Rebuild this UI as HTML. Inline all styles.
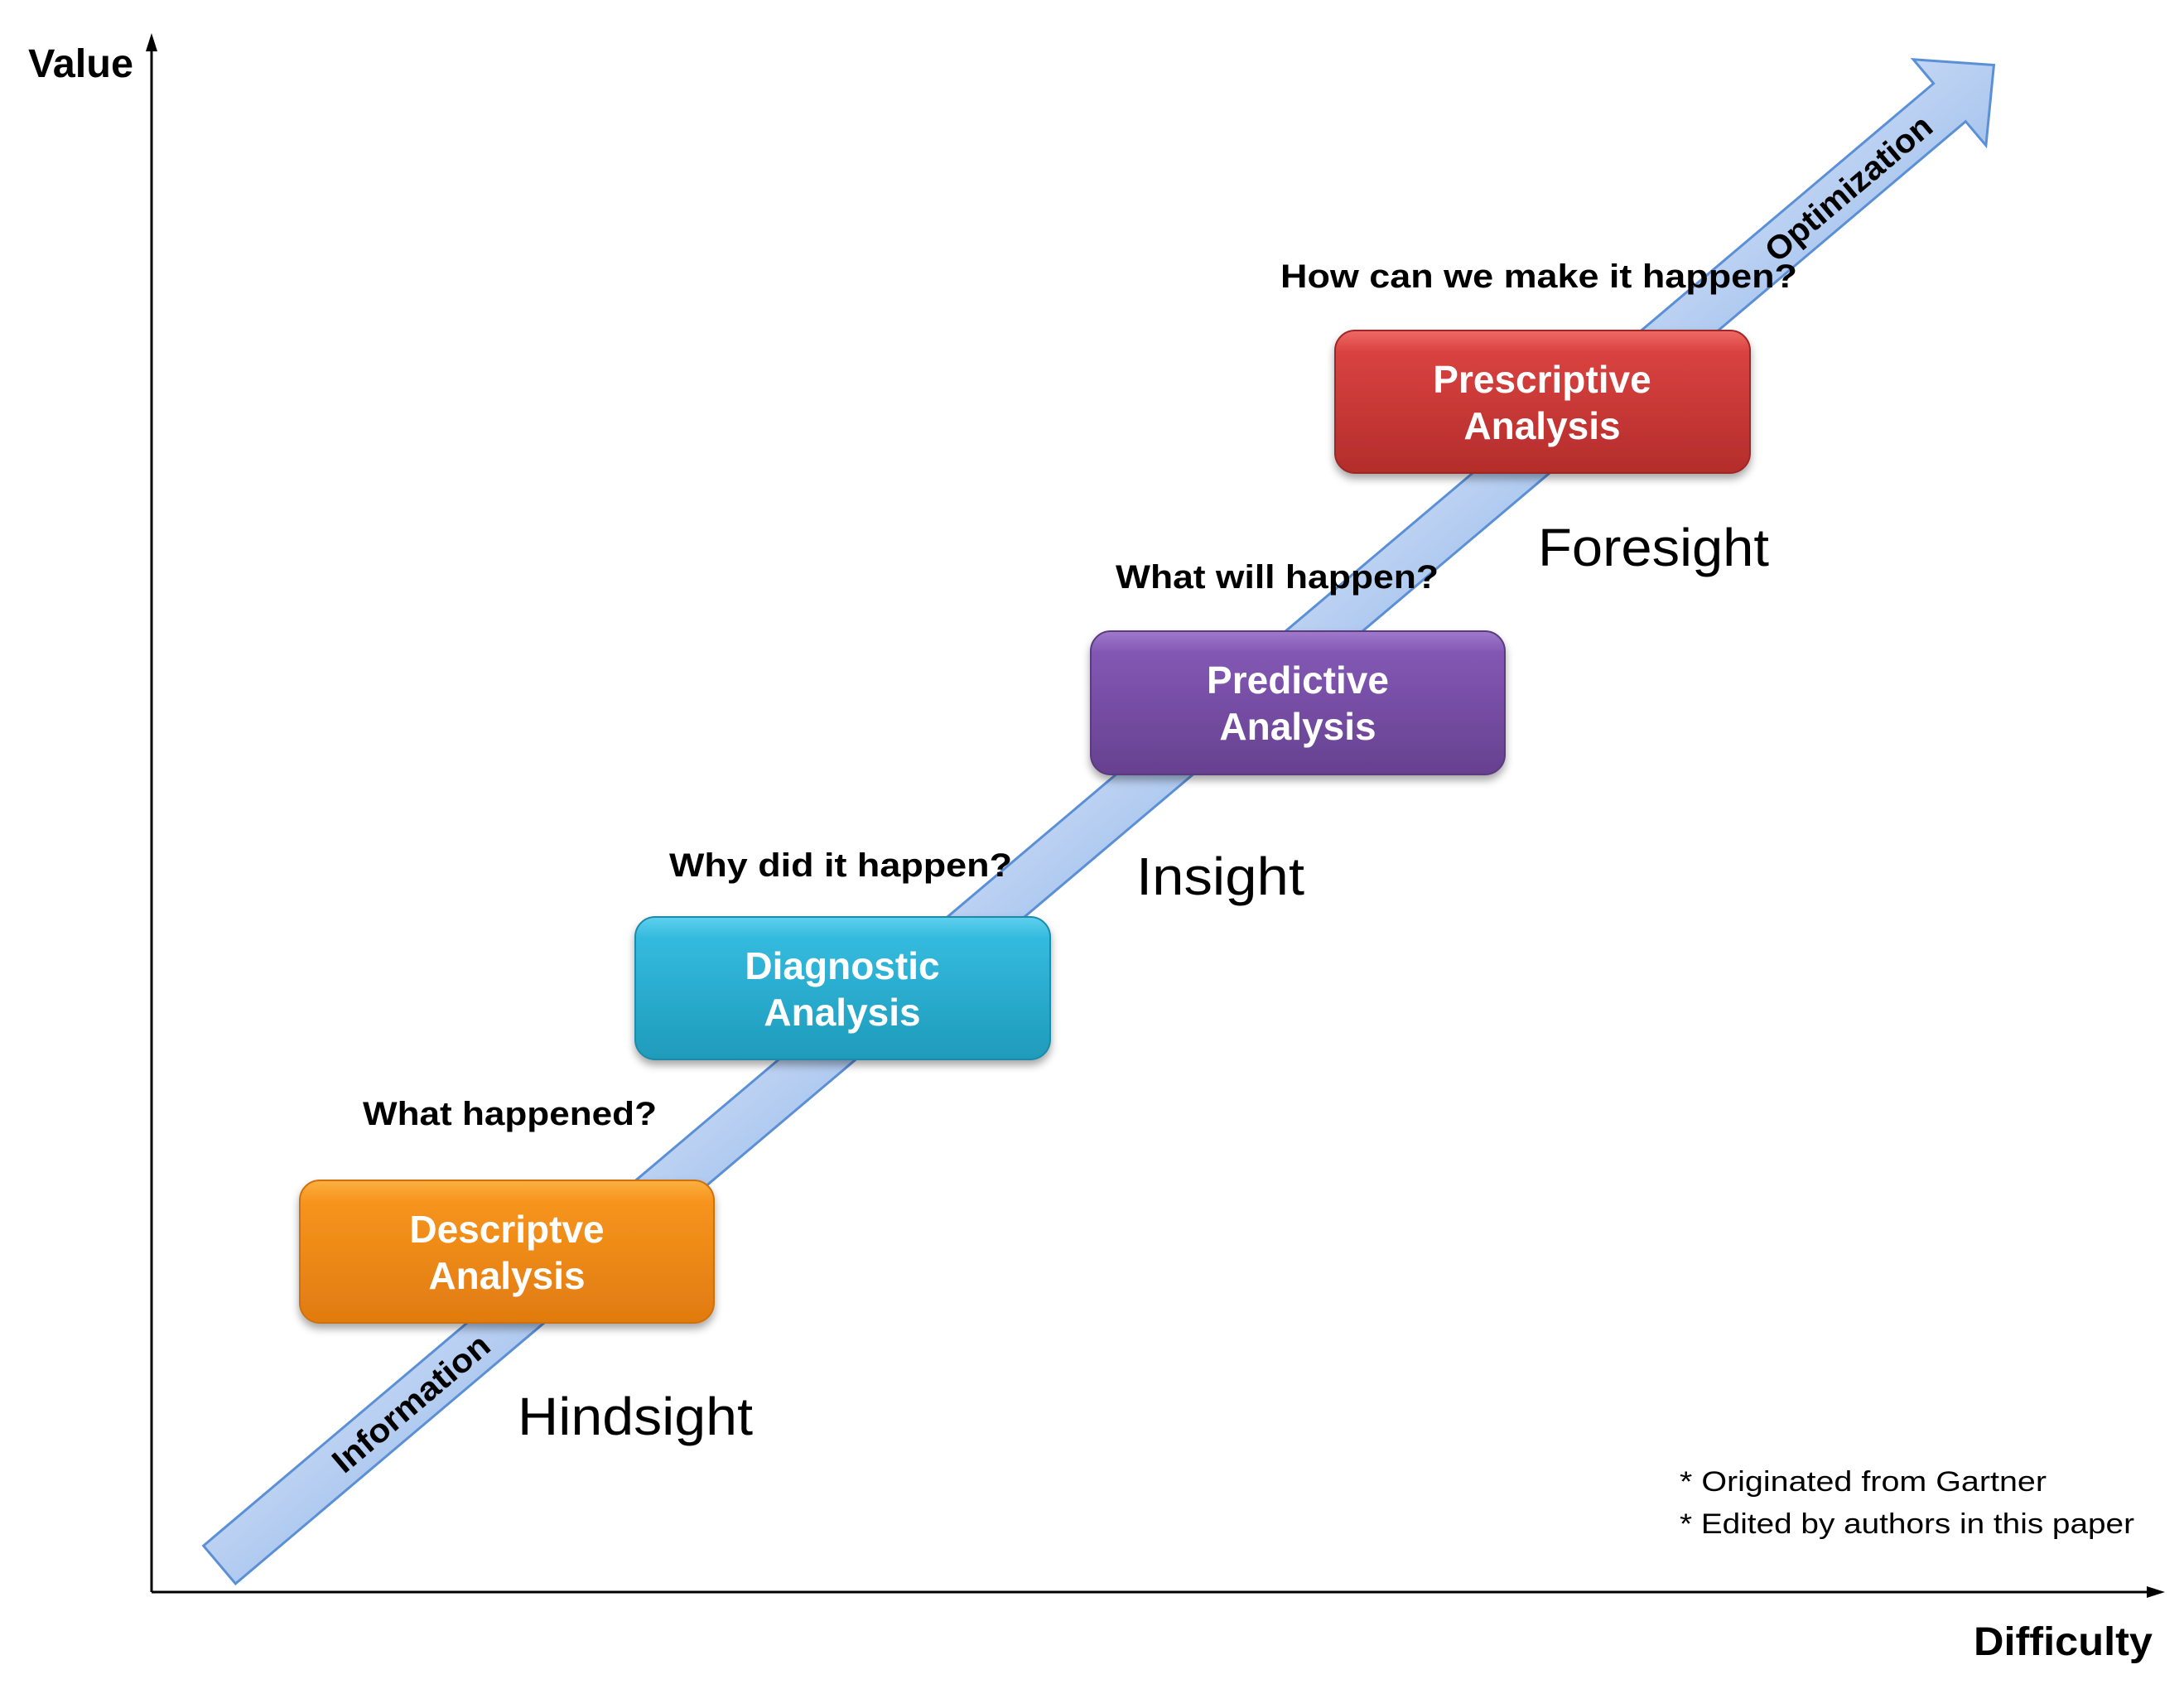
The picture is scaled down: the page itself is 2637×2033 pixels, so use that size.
<!DOCTYPE html>
<html><head><meta charset="utf-8"><style>html,body{margin:0;padding:0;background:#fff}svg{display:block}</style></head>
<body>
<svg width="2637" height="2033" viewBox="0 0 2637 2033" xmlns="http://www.w3.org/2000/svg" font-family="Liberation Sans, sans-serif">
<defs>
<linearGradient id="ar" x1="0" y1="-1" x2="0" y2="1" gradientUnits="objectBoundingBox"><stop offset="0" stop-color="#dce8fa"/><stop offset="1" stop-color="#a9c5ee"/></linearGradient>
<linearGradient id="go" x1="0" y1="0" x2="0" y2="1"><stop offset="0" stop-color="#fbb040"/><stop offset="0.15" stop-color="#f7941d"/><stop offset="1" stop-color="#e07b10"/></linearGradient>
<linearGradient id="gc" x1="0" y1="0" x2="0" y2="1"><stop offset="0" stop-color="#5fd0ee"/><stop offset="0.15" stop-color="#33bade"/><stop offset="1" stop-color="#1f9bbb"/></linearGradient>
<linearGradient id="gp" x1="0" y1="0" x2="0" y2="1"><stop offset="0" stop-color="#a07acb"/><stop offset="0.15" stop-color="#8257b4"/><stop offset="1" stop-color="#66418f"/></linearGradient>
<linearGradient id="gr" x1="0" y1="0" x2="0" y2="1"><stop offset="0" stop-color="#ee6a66"/><stop offset="0.15" stop-color="#d94240"/><stop offset="1" stop-color="#b32d2b"/></linearGradient>
<filter id="sh" x="-10%" y="-10%" width="120%" height="130%"><feDropShadow dx="0" dy="6" stdDeviation="5" flood-color="#000" flood-opacity="0.35"/></filter>
<marker id="mk" markerWidth="10" markerHeight="10" refX="8" refY="5" orient="auto" markerUnits="userSpaceOnUse"><path d="M0,0 L10,5 L0,10 Z" fill="#000"/></marker>
</defs>

<!-- axes -->
<line x1="183" y1="1922" x2="183" y2="58" stroke="#000" stroke-width="3"/>
<path d="M176,62 L183,40 L190,62 Z" fill="#000"/>
<line x1="183" y1="1922" x2="2595" y2="1922" stroke="#000" stroke-width="3"/>
<path d="M2592,1915 L2614,1922 L2592,1929 Z" fill="#000"/>
<text x="34" y="93" font-size="48" font-weight="bold" textLength="127" lengthAdjust="spacingAndGlyphs">Value</text>
<text x="2383" y="1998" font-size="48" font-weight="bold" textLength="216" lengthAdjust="spacingAndGlyphs">Difficulty</text>

<!-- big arrow -->
<g transform="translate(265,1889) rotate(-40.2)">
<path d="M0,-30 L2735,-30 L2735,-68 L2805,0 L2735,68 L2735,30 L0,30 Z" fill="url(#ar)" stroke="#5b8fd6" stroke-width="3" stroke-linejoin="miter"/>
<text x="185" y="14" font-size="40" font-weight="bold" textLength="235" lengthAdjust="spacingAndGlyphs">Information</text>
<text x="2450" y="14" font-size="40" font-weight="bold" textLength="250" lengthAdjust="spacingAndGlyphs">Optimization</text>
</g>

<!-- boxes -->
<g filter="url(#sh)">
<rect x="362" y="1425" width="500" height="172" rx="24" fill="url(#go)" stroke="#d0700c" stroke-width="2"/>
<rect x="767" y="1107" width="501" height="172" rx="24" fill="url(#gc)" stroke="#1b8aa8" stroke-width="2"/>
<rect x="1317" y="762" width="500" height="173" rx="24" fill="url(#gp)" stroke="#5a3a80" stroke-width="2"/>
<rect x="1612" y="399" width="501" height="172" rx="24" fill="url(#gr)" stroke="#9e2826" stroke-width="2"/>
</g>
<g fill="#fff" font-size="46" font-weight="bold" text-anchor="middle">
<text x="612" y="1500">Descriptve</text><text x="612" y="1556">Analysis</text>
<text x="1017" y="1182">Diagnostic</text><text x="1017" y="1238">Analysis</text>
<text x="1567" y="837">Predictive</text><text x="1567" y="893">Analysis</text>
<text x="1862" y="474">Prescriptive</text><text x="1862" y="530">Analysis</text>
</g>

<!-- questions -->
<g font-size="40" font-weight="bold" fill="#000">
<text x="438" y="1358" textLength="355" lengthAdjust="spacingAndGlyphs">What happened?</text>
<text x="808" y="1058" textLength="414" lengthAdjust="spacingAndGlyphs">Why did it happen?</text>
<text x="1347" y="710" textLength="390" lengthAdjust="spacingAndGlyphs">What will happen?</text>
<text x="1546" y="347" textLength="624" lengthAdjust="spacingAndGlyphs">How can we make it happen?</text>
</g>

<!-- sight labels -->
<g font-size="64" fill="#000">
<text x="625" y="1732" textLength="284" lengthAdjust="spacingAndGlyphs">Hindsight</text>
<text x="1372" y="1080" textLength="203" lengthAdjust="spacingAndGlyphs">Insight</text>
<text x="1857" y="683" textLength="279" lengthAdjust="spacingAndGlyphs">Foresight</text>
</g>

<!-- footnotes -->
<g font-size="34" fill="#000">
<text x="2028" y="1800" textLength="443" lengthAdjust="spacingAndGlyphs">* Originated from Gartner</text>
<text x="2028" y="1851" textLength="549" lengthAdjust="spacingAndGlyphs">* Edited by authors in this paper</text>
</g>
</svg>
</body></html>
